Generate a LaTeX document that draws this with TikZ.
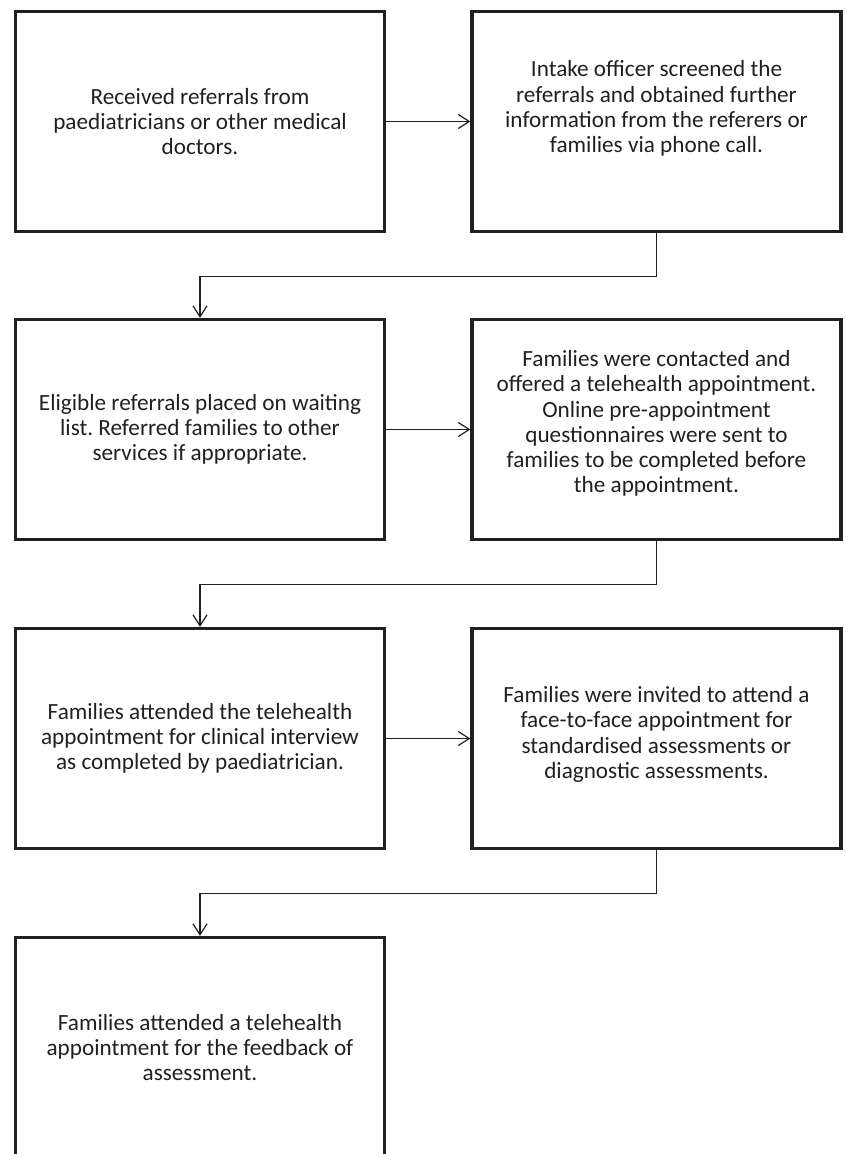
\documentclass[tikz,border=0pt]{standalone}
\usepackage{fontspec}
\setmainfont{Carlito}
\usepackage{xcolor}
\usetikzlibrary{arrows.meta,positioning}
\definecolor{ink}{HTML}{231F20}
\frenchspacing

\begin{document}
\begin{tikzpicture}[x=1pt, y=-1pt, >={Straight Barb[length=11pt,width=14pt]},
		box/.style={draw=ink, line width=3.2pt, minimum width=369pt, minimum height=220pt, inner sep=0pt},
		txt/.style={text=ink, align=center, font=\fontsize{23.2}{25.3}\selectfont},
		link/.style={->, draw=ink, line width=1.2pt}]
		\useasboundingbox (0,0) rectangle (846,1154);
		% boxes
		\node[box] (referral) at (200,121.5) {};
		\node[box] (intake) at (656.5,121.5) {};
		\node[box] (waitlist) at (200,429.5) {};
		\node[box] (contact) at (656.5,429.5) {};
		\node[box] (interview) at (200,738.5) {};
		\node[box] (facetoface) at (656.5,738.5) {};
		\node[box] (feedback) at (200,1047.5) {};
		% texts
		\node[txt] (referraltxt) at (referral) {Received referrals from\\paediatricians or other medical\\doctors.};
		\node[txt] (intaketxt) at ([yshift=13pt]intake.center) {Intake officer screened the\\referrals and obtained further\\information from the referers or\\families via phone call.};
		\node[txt] (waitlisttxt) at (waitlist) {Eligible referrals placed on waiting\\list. Referred families to other\\services if appropriate.};
		\node[txt] (contacttxt) at ([yshift=6pt]contact.center) {Families were contacted and\\offered a telehealth appointment.\\Online pre-appointment\\questionnaires were sent to\\families to be completed before\\the appointment.};
		\node[txt] (interviewtxt) at (interview) {Families attended the telehealth\\appointment for clinical interview\\as completed by paediatrician.};
		\node[txt] (facetofacetxt) at ([yshift=4pt]facetoface.center) {Families were invited to attend a\\face-to-face appointment for\\standardised assessments or\\diagnostic assessments.};
		\node[txt] (feedbacktxt) at (feedback) {Families attended a telehealth\\appointment for the feedback of\\assessment.};
		% connectors
		\draw[link] (referral) -- (intake);
		\draw[link] (intake.south) -- ++(0,43) -| (waitlist.north);
		\draw[link] (waitlist) -- (contact);
		\draw[link] (contact.south) -- ++(0,43) -| (interview.north);
		\draw[link] (interview) -- (facetoface);
		\draw[link] (facetoface.south) -- ++(0,43) -| (feedback.north);
	\end{tikzpicture}
\end{document}
